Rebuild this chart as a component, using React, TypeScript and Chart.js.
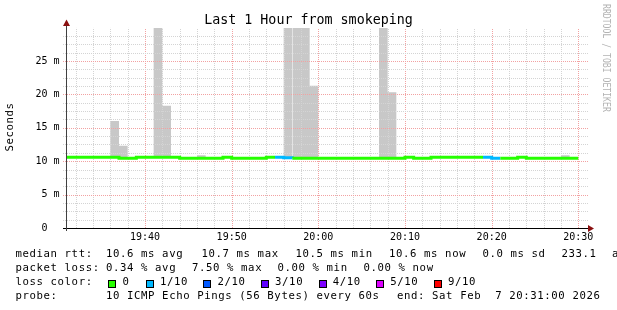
import React, { useEffect, useRef } from 'react';
import { Chart, registerables } from 'chart.js';

Chart.register(...registerables);

// ---- data (one value per minute, first minute = 19:31) ----
const startClock = '19:31';
const medianRtt = [
  10.6, 10.6, 10.6, 10.6, 10.6, 10.6, 10.45, 10.45, 10.6, 10.6,
  10.6, 10.6, 10.6, 10.45, 10.45, 10.45, 10.45, 10.45, 10.6, 10.45,
  10.45, 10.45, 10.45, 10.6, 10.6, 10.5, 10.45, 10.45, 10.45, 10.45,
  10.45, 10.45, 10.45, 10.45, 10.45, 10.45, 10.45, 10.45, 10.45, 10.6,
  10.45, 10.45, 10.6, 10.6, 10.6, 10.6, 10.6, 10.6, 10.6, 10.45,
  10.45, 10.45, 10.6, 10.45, 10.45, 10.45, 10.45, 10.45, 10.45,
];
const lossTenths = [
  0, 0, 0, 0, 0, 0, 0, 0, 0, 0,
  0, 0, 0, 0, 0, 0, 0, 0, 0, 0,
  0, 0, 0, 0, 1, 1, 0, 0, 0, 0,
  0, 0, 0, 0, 0, 0, 0, 0, 0, 0,
  0, 0, 0, 0, 0, 0, 0, 0, 1, 1,
  0, 0, 0, 0, 0, 0, 0, 0, 0,
];
const smokeMax: (number | null)[] = [
  null, null, null, null, null, 16.0, 12.3, null, null, null,
  30, 18.3, null, null, null, 10.9, null, null, null, null,
  null, null, null, null, null, 30, 30, 30, 21.3, null,
  null, null, null, null, null, null, 30, 20.3, null, null,
  null, null, null, null, null, null, null, null, null, null,
  null, null, null, null, null, null, null, 10.9, null,
];
const xTickLabels = ['19:40', '19:50', '20:00', '20:10', '20:20', '20:30'];
const yTickValues = [0, 5, 10, 15, 20, 25];
const yTickLabels = ['0  ', '5 m', '10 m', '15 m', '20 m', '25 m'];
const lossLegendLabels = ['0', '1/10', '2/10', '3/10', '4/10', '5/10', '9/10'];
const lossLegendTenths = [0, 1, 2, 3, 4, 5, 9];
const lossLegendColors = ['#26ff00', '#00b8ff', '#0059ff', '#5e00ff', '#7e00ff', '#dd00ff', '#ff0000'];

const legendRow1 = ['median rtt:', '10.6 ms avg', '10.7 ms max', '10.5 ms min', '10.6 ms now', '0.0 ms sd', '233.1', 'am/s'];
const legendRow2 = ['packet loss:', '0.34 % avg', '7.50 % max', '0.00 % min', '0.00 % now'];
const legendRow4 = ['probe:', '10 ICMP Echo Pings (56 Bytes) every 60s', 'end: Sat Feb  7 20:31:00 2026'];

// ---- layout constants ----
const MONO = '"DejaVu Sans Mono", monospace';
const row1X = [15.5, 106, 201.5, 295.5, 389, 482.5, 561.5, 612];
const row2X = [15.5, 106, 192, 277.5, 363.5];
const row4X = [15.5, 106, 397];
const squareX = [108.3, 145.7, 203.3, 260.9, 318.5, 376.1, 433.7];
const LEG_FS = 10.67;

function clockToMin(s: string) {
  const [h, m] = s.split(':').map(Number);
  return h * 60 + m;
}
const startMin = clockToMin(startClock);
const xTickValues = xTickLabels.map((l) => clockToMin(l) - startMin);

function lossColor(t: number) {
  let c = lossLegendColors[0];
  lossLegendTenths.forEach((th, i) => {
    if (t >= th) c = lossLegendColors[i];
  });
  return c;
}

const MINOR = '#d4d4d4';
const MAJOR = '#f2a2a2';

const gridPlugin = {
  id: 'rrdGrid',
  beforeDatasetDraw(chart: any, args: any) {
    if (args.index !== 0) return;
    const { ctx, chartArea, scales } = chart;
    const x = scales.x;
    const y = scales.y;
    ctx.save();
    ctx.lineWidth = 1;
    ctx.setLineDash([1, 1]);
    // vertical lines every 2 minutes, major every 10
    for (let m = 1; m <= 59; m += 2) {
      const px = Math.round(x.getPixelForValue(m)) + 0.5;
      const major = xTickValues.includes(m);
      ctx.strokeStyle = major ? MAJOR : MINOR;
      ctx.beginPath();
      ctx.moveTo(px, chartArea.bottom);
      ctx.lineTo(px, chartArea.top);
      ctx.stroke();
    }
    // horizontal lines every 1.25 m, major every 5
    for (let k = 1; k <= 23; k++) {
      const v = k * 1.25;
      const py = Math.round(y.getPixelForValue(v)) + 0.5;
      const major = k % 4 === 0;
      ctx.strokeStyle = major ? MAJOR : MINOR;
      ctx.beginPath();
      ctx.moveTo(chartArea.left - 4, py);
      ctx.lineTo(chartArea.right + 2, py);
      ctx.stroke();
    }
    ctx.restore();
  },
};

const axisPlugin = {
  id: 'rrdAxes',
  afterDatasetsDraw(chart: any) {
    const { ctx, chartArea } = chart;
    const bx = Math.round(chartArea.left) - 1;
    const by = Math.round(chartArea.bottom);
    ctx.save();
    ctx.fillStyle = '#000';
    ctx.fillRect(bx - 3, by, chartArea.right - bx + 6, 1);
    ctx.fillStyle = '#404040';
    ctx.fillRect(bx, 24, 1, by - 24 + 3);
    ctx.fillStyle = '#8a1010';
    ctx.beginPath();
    ctx.moveTo(chartArea.right + 1, by - 3);
    ctx.lineTo(chartArea.right + 1, by + 4);
    ctx.lineTo(chartArea.right + 7, by + 0.5);
    ctx.closePath();
    ctx.fill();
    ctx.beginPath();
    ctx.moveTo(bx - 3, 26);
    ctx.lineTo(bx + 4, 26);
    ctx.lineTo(bx + 0.5, 19.5);
    ctx.closePath();
    ctx.fill();
    ctx.restore();
  },
};

export default function App() {
  const canvasRef = useRef<HTMLCanvasElement>(null);

  useEffect(() => {
    document.body.style.margin = '0';
    const canvas = canvasRef.current;
    if (!canvas) return;

    const medianPts = medianRtt.map((v, i) => ({ x: i, y: v }));
    medianPts.push({ x: medianRtt.length, y: medianRtt[medianRtt.length - 1] });
    const smokePts = medianRtt.map((v, i) => ({ x: i, y: smokeMax[i] ?? v }));
    smokePts.push({ x: medianRtt.length, y: medianRtt[medianRtt.length - 1] });

    const chart = new Chart(canvas, {
      type: 'line',
      data: {
        datasets: [
          {
            label: 'median',
            data: medianPts,
            stepped: 'before',
            borderWidth: 3,
            borderCapStyle: 'butt',
            pointRadius: 0,
            fill: false,
            borderColor: '#26ff00',
            segment: {
              borderColor: (c: any) => lossColor(lossTenths[c.p0DataIndex] ?? 0),
            },
          } as any,
          {
            label: 'smoke',
            data: smokePts,
            stepped: 'before',
            borderWidth: 0,
            pointRadius: 0,
            fill: '-1',
            backgroundColor: '#c8c8c8',
            borderColor: 'rgba(0,0,0,0)',
          } as any,
        ],
      },
      options: {
        animation: false,
        responsive: false,
        devicePixelRatio: 1,
        events: [],
        layout: { padding: { top: 27.9, right: 30, left: 0, bottom: 0 } },
        plugins: {
          legend: { display: false },
          tooltip: { enabled: false },
          title: { display: false },
        },
        scales: {
          x: {
            type: 'linear',
            min: 0,
            max: 60,
            grid: { display: false, drawTicks: false },
            border: { display: false },
            afterBuildTicks: (s: any) => {
              s.ticks = xTickValues.map((v) => ({ value: v }));
            },
            afterFit: (s: any) => {
              s.height = 82;
            },
            ticks: {
              autoSkip: false,
              maxRotation: 0,
              minRotation: 0,
              padding: 3.5,
              color: '#000',
              font: { family: MONO, size: 10 },
              callback: (v: any) => xTickLabels[xTickValues.indexOf(Number(v))] ?? '',
            },
          },
          y: {
            type: 'linear',
            min: 0,
            max: 29.95,
            grid: { display: false, drawTicks: false },
            border: { display: false },
            afterBuildTicks: (s: any) => {
              s.ticks = yTickValues.map((v) => ({ value: v }));
            },
            afterFit: (s: any) => {
              s.width = 67;
            },
            ticks: {
              padding: 7.5,
              color: '#000',
              font: { family: MONO, size: 10 },
              callback: (v: any) => yTickLabels[yTickValues.indexOf(Number(v))] ?? '',
            },
          },
        },
      } as any,
      plugins: [gridPlugin, axisPlugin],
    });
    return () => chart.destroy();
  }, []);

  const legText = (text: string, x: number, baseline: number, key: string) => (
    <div
      key={key}
      style={{
        position: 'absolute',
        left: x,
        top: baseline - 0.846 * LEG_FS,
        fontFamily: MONO,
        fontSize: LEG_FS,
        lineHeight: `${LEG_FS}px`,
        letterSpacing: '0.6px',
        whiteSpace: 'pre',
        color: '#000',
      }}
    >
      {text}
    </div>
  );

  return (
    <div style={{ position: 'relative', width: 617, height: 310, overflow: 'hidden', background: '#fff' }}>
      <canvas
        ref={canvasRef}
        width={617}
        height={310}
        style={{ position: 'absolute', left: 0, top: 0, width: 617, height: 310 }}
      />
      <div
        style={{
          position: 'absolute',
          left: 0,
          width: 617,
          top: 24 - 0.846 * 13.33,
          textAlign: 'center',
          fontFamily: MONO,
          fontSize: 13.33,
          lineHeight: '13.33px',
          whiteSpace: 'pre',
          color: '#000',
        }}
      >
        Last 1 Hour from smokeping
      </div>
      <div
        style={{
          position: 'absolute',
          left: -20,
          top: 122,
          width: 60,
          height: 10,
          textAlign: 'center',
          transform: 'rotate(-90deg)',
          fontFamily: MONO,
          fontWeight: 'normal',
          fontSize: LEG_FS,
          lineHeight: '10px',
          letterSpacing: '0.6px',
          whiteSpace: 'pre',
          color: '#000',
        }}
      >
        Seconds
      </div>
      <div
        style={{
          position: 'absolute',
          left: 600.5,
          top: 4,
          writingMode: 'vertical-rl',
          transformOrigin: 'top left',
          transform: 'scaleY(0.74)',
          fontFamily: MONO,
          fontSize: 11,
          lineHeight: '11px',
          whiteSpace: 'pre',
          color: '#b4b4b4',
        }}
      >
        RRDTOOL / TOBI OETIKER
      </div>
      {legendRow1.map((t, i) => legText(t, row1X[i], 257.7, `r1-${i}`))}
      {legendRow2.map((t, i) => legText(t, row2X[i], 271.7, `r2-${i}`))}
      {legText('loss color:', 15.5, 285.7, 'r3-label')}
      {lossLegendLabels.map((l, i) => (
        <React.Fragment key={`sq-${i}`}>
          <div
            style={{
              position: 'absolute',
              left: squareX[i],
              top: 280.3,
              width: 6,
              height: 6,
              border: '1px solid #000',
              background: lossLegendColors[i],
            }}
          />
          {legText(l, squareX[i] + 14.2, 285.7, `sl-${i}`)}
        </React.Fragment>
      ))}
      {legendRow4.map((t, i) => legText(t, row4X[i], 299.7, `r4-${i}`))}
    </div>
  );
}
